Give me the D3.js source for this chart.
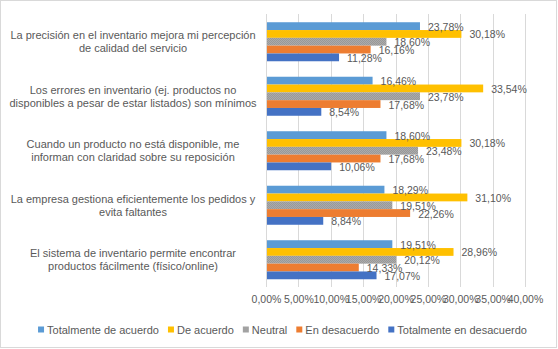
<!DOCTYPE html>
<html><head><meta charset="utf-8">
<script src="https://cdn.jsdelivr.net/npm/d3@7"></script>
<style>html,body{margin:0;padding:0;background:#fff;}svg{display:block;}</style>
</head><body>
<svg id="c" width="558" height="349"></svg>
<script>
const categories = [
  ["La precisión en el inventario mejora mi percepción", "de calidad del servicio"],
  ["Los errores en inventario (ej. productos no", "disponibles a pesar de estar listados) son mínimos"],
  ["Cuando un producto no está disponible, me", "informan con claridad sobre su reposición"],
  ["La empresa gestiona eficientemente los pedidos y", "evita faltantes"],
  ["El sistema de inventario permite encontrar", "productos fácilmente (físico/online)"]
];
const seriesNames = ["Totalmente de acuerdo", "De acuerdo", "Neutral", "En desacuerdo", "Totalmente en desacuerdo"];
const totalmenteDeAcuerdo = [23.78, 16.46, 18.60, 18.29, 19.51];
const deAcuerdo = [30.18, 33.54, 30.18, 31.10, 28.96];
const neutral = [18.60, 23.78, 23.48, 19.51, 20.12];
const enDesacuerdo = [16.16, 17.68, 17.68, 22.26, 14.33];
const totalmenteEnDesacuerdo = [11.28, 8.54, 10.06, 8.84, 17.07];
const tickValues = [0, 5, 10, 15, 20, 25, 30, 35, 40];

const seriesValues = [totalmenteDeAcuerdo, deAcuerdo, neutral, enDesacuerdo, totalmenteEnDesacuerdo];
const colors = ["#5B9BD5", "#FFC000", "url(#neutralPat)", "#ED7D31", "#4472C4"];

const svg = d3.select("#c");
const font = "'Liberation Sans', Arial, sans-serif";
const txt = "#595959";
const fmt = v => v.toFixed(2).replace(".", ",") + "%";

const defs = svg.append("defs");
const pat = defs.append("pattern").attr("id", "neutralPat").attr("patternUnits", "userSpaceOnUse")
  .attr("width", 2).attr("height", 2);
pat.append("rect").attr("width", 2).attr("height", 2).attr("fill", "#b4b4b4");
pat.append("rect").attr("width", 1).attr("height", 1).attr("fill", "#8f8f8f");
pat.append("rect").attr("x", 1).attr("y", 1).attr("width", 1).attr("height", 1).attr("fill", "#8f8f8f");

// chart border
svg.append("rect").attr("x", 0.5).attr("y", 0.5).attr("width", 556).attr("height", 347)
  .attr("fill", "#fff").attr("stroke", "#d9d9d9");

const x = d3.scaleLinear().domain([0, 40]).range([266, 525]);
const y = d3.scaleBand().domain(d3.range(categories.length)).range([14.5, 287]).paddingInner(0.284).paddingOuter(0.142);
const ys = d3.scaleBand().domain(d3.range(seriesNames.length)).range([0, y.bandwidth()]);

// gridlines
svg.append("g").selectAll("line").data(tickValues.slice(1)).join("line")
  .attr("x1", d => Math.round(x(d)) + 0.5).attr("x2", d => Math.round(x(d)) + 0.5)
  .attr("y1", 14).attr("y2", 287).attr("stroke", "#d9d9d9").attr("stroke-width", 1);

// bars
const groups = svg.append("g").selectAll("g").data(categories).join("g")
  .attr("transform", (d, i) => `translate(0,${y(i)})`);
groups.each(function(c, i) {
  const g = d3.select(this);
  seriesValues.forEach((vals, s) => {
    g.append("rect").attr("x", x(0)).attr("y", ys(s)).attr("width", x(vals[i]) - x(0))
      .attr("height", ys.bandwidth()).attr("fill", colors[s]);
  });
});
// axis line
svg.append("line").attr("x1", 266.5).attr("x2", 266.5).attr("y1", 14).attr("y2", 287).attr("stroke", "#d9d9d9");

// data labels
groups.each(function(c, i) {
  const g = d3.select(this);
  seriesValues.forEach((vals, s) => {
    g.append("text").attr("x", x(vals[i]) + 8).attr("y", ys(s) + ys.bandwidth() / 2 + 0.5)
      .attr("dominant-baseline", "central").attr("font-family", font).attr("font-size", 10.5)
      .attr("fill", txt).text(fmt(vals[i]));
  });
});

// category labels
groups.each(function(c, i) {
  const g = d3.select(this);
  const cy = y.bandwidth() / 2;
  c.forEach((line, k) => {
    g.append("text").attr("x", 133).attr("y", cy + (k === 0 ? -6.5 : 6.5))
      .attr("text-anchor", "middle").attr("dominant-baseline", "central")
      .attr("font-family", font).attr("font-size", 11).attr("fill", txt).text(line);
  });
});

// x axis tick labels
const axis = d3.axisBottom(x).tickValues(tickValues).tickFormat(fmt).tickSize(0).tickPadding(0);
const ag = svg.append("g").attr("transform", "translate(0,296)").call(axis);
ag.select(".domain").remove();
ag.selectAll("text").attr("font-family", font).attr("font-size", 10.5).attr("fill", txt)
  .attr("dy", "0.71em").attr("y", 0);

// legend
const lg = svg.append("g");
let cx = 0;
seriesNames.forEach((n, s) => {
  const it = lg.append("g");
  it.append("rect").attr("x", 0).attr("y", -3).attr("width", 6).attr("height", 6).attr("fill", colors[s]);
  const t = it.append("text").attr("x", 9).attr("y", 0).attr("dominant-baseline", "central")
    .attr("font-family", font).attr("font-size", 11).attr("fill", txt).text(n);
  const w = 9 + t.node().getComputedTextLength();
  it.attr("transform", `translate(${cx},0)`);
  cx += w + 9;
});
const totalW = cx - 9;
lg.attr("transform", `translate(${282.5 - totalW / 2},329.5)`);
</script>
</body></html>
